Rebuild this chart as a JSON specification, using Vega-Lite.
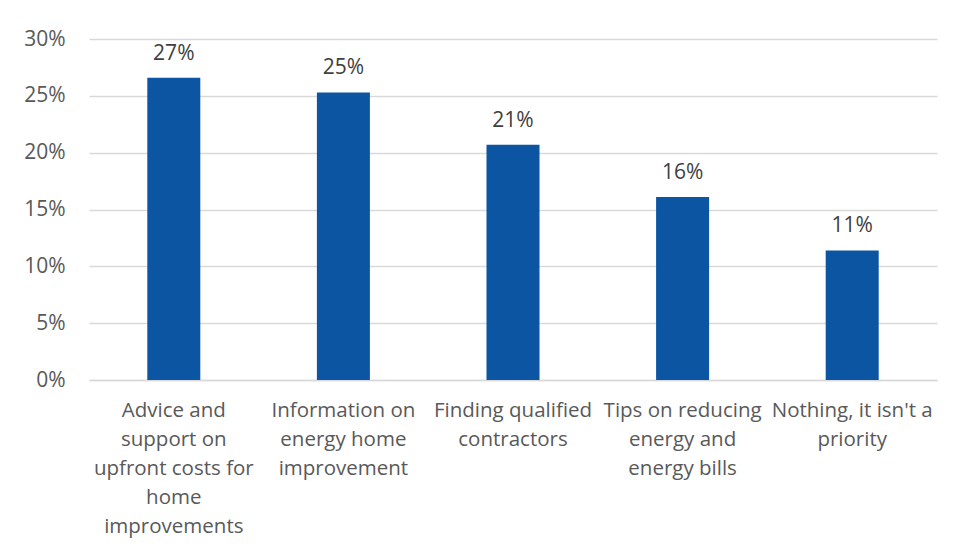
{
  "$schema": "https://vega.github.io/schema/vega-lite/v6.json",
  "autosize": {"type": "none"},
  "width": 848,
  "height": 341,
  "padding": {"left": 89, "top": 39, "right": 19, "bottom": 169},
  "background": "white",
  "config": {
    "view": {"stroke": null},
    "font": "Open Sans"
  },
  "data": {
    "values": [
      {"option": "Advice and support on upfront costs for home improvements", "share": 0.266},
      {"option": "Information on energy home improvement", "share": 0.253},
      {"option": "Finding qualified contractors", "share": 0.207},
      {"option": "Tips on reducing energy and energy bills", "share": 0.161},
      {"option": "Nothing, it isn't a priority", "share": 0.114}
    ]
  },
  "encoding": {
    "x": {
      "field": "option",
      "type": "nominal",
      "sort": null,
      "scale": {"paddingInner": 0.6875, "paddingOuter": 0.34375},
      "axis": {
        "title": null,
        "labelAngle": 0,
        "ticks": false,
        "domainColor": "#d9d9d9",
        "domainWidth": 1.5,
        "labelColor": "#595959",
        "labelFontSize": 20.5,
        "labelLineHeight": 29,
        "labelBaseline": "top",
        "labelPadding": 20,
        "labelLimit": 300,
        "labelExpr": "datum.value == 'Advice and support on upfront costs for home improvements' ? ['Advice and', 'support on', 'upfront costs for', 'home', 'improvements'] : datum.value == 'Information on energy home improvement' ? ['Information on', 'energy home', 'improvement'] : datum.value == 'Finding qualified contractors' ? ['Finding qualified', 'contractors'] : datum.value == 'Tips on reducing energy and energy bills' ? ['Tips on reducing', 'energy and', 'energy bills'] : ['Nothing, it isn\\'t a', 'priority']"
      }
    },
    "y": {
      "field": "share",
      "type": "quantitative",
      "scale": {"domain": [0, 0.3], "nice": false},
      "axis": {
        "title": null,
        "format": ".0%",
        "values": [0, 0.05, 0.1, 0.15, 0.2, 0.25, 0.3],
        "ticks": false,
        "domain": false,
        "gridColor": "#d9d9d9",
        "gridWidth": 1.5,
        "labelColor": "#595959",
        "labelFontSize": 21,
        "labelPadding": 24
      }
    }
  },
  "layer": [
    {"mark": {"type": "bar", "color": "#0b55a3"}},
    {
      "mark": {"type": "text", "dy": -18, "baseline": "alphabetic", "fontSize": 21, "color": "#404040"},
      "encoding": {"text": {"field": "share", "type": "quantitative", "format": ".0%"}}
    }
  ]
}
